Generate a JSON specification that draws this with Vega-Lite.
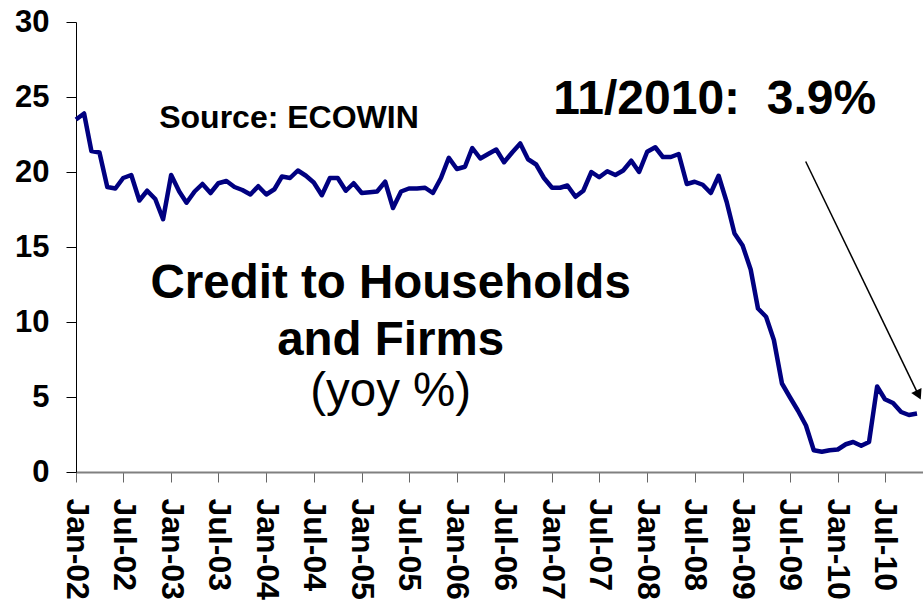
{
  "$schema": "https://vega.github.io/schema/vega-lite/v6.json",
  "width": 847,
  "height": 450,
  "autosize": "none",
  "padding": {"left": 76, "top": 22, "right": 0, "bottom": 141},
  "background": "white",
  "config": {"view": {"stroke": null}, "font": "Liberation Sans"},
  "encoding": {
    "x": {
      "field": "date", "type": "temporal",
      "scale": {"type": "utc", "domain": [{"year": 2002, "month": 1, "date": 1, "utc": true}, {"year": 2010, "month": 11, "date": 24, "utc": true}]},
      "axis": {"title": null, "format": "%b-%y", "tickCount": {"interval": "month", "step": 6}, "labelAngle": 90, "labelAlign": "left", "labelBaseline": "middle", "labelFontSize": 32, "labelFontWeight": "bold", "labelColor": "black", "labelPadding": 16, "tickSize": 10, "tickColor": "#666666", "domainColor": "#808080", "domainWidth": 2, "grid": false, "labelOverlap": false, "labelFlush": false}
    },
    "y": {
      "field": "value", "type": "quantitative",
      "scale": {"domain": [0, 30]},
      "axis": {"title": null, "values": [0, 5, 10, 15, 20, 25, 30], "labelFontSize": 31, "labelFontWeight": "bold", "labelColor": "black", "labelPadding": 17, "tickSize": 10, "tickColor": "black", "domainColor": "black", "domainWidth": 1, "grid": false, "labelFlush": false}
    }
  },
  "layer": [
    {
      "data": {"values": [
        {"date": "2002-01-01", "value": 23.5}, {"date": "2002-02-01", "value": 23.9}, {"date": "2002-03-01", "value": 21.4}, {"date": "2002-04-01", "value": 21.3},
        {"date": "2002-05-01", "value": 19.0}, {"date": "2002-06-01", "value": 18.9}, {"date": "2002-07-01", "value": 19.6}, {"date": "2002-08-01", "value": 19.8},
        {"date": "2002-09-01", "value": 18.1}, {"date": "2002-10-01", "value": 18.75}, {"date": "2002-11-01", "value": 18.2}, {"date": "2002-12-01", "value": 16.85},
        {"date": "2003-01-01", "value": 19.8}, {"date": "2003-02-01", "value": 18.7}, {"date": "2003-03-01", "value": 17.95}, {"date": "2003-04-01", "value": 18.7},
        {"date": "2003-05-01", "value": 19.2}, {"date": "2003-06-01", "value": 18.6}, {"date": "2003-07-01", "value": 19.25}, {"date": "2003-08-01", "value": 19.4},
        {"date": "2003-09-01", "value": 19.0}, {"date": "2003-10-01", "value": 18.8}, {"date": "2003-11-01", "value": 18.5}, {"date": "2003-12-01", "value": 19.05},
        {"date": "2004-01-01", "value": 18.5}, {"date": "2004-02-01", "value": 18.85}, {"date": "2004-03-01", "value": 19.7}, {"date": "2004-04-01", "value": 19.6},
        {"date": "2004-05-01", "value": 20.1}, {"date": "2004-06-01", "value": 19.75}, {"date": "2004-07-01", "value": 19.3}, {"date": "2004-08-01", "value": 18.45},
        {"date": "2004-09-01", "value": 19.6}, {"date": "2004-10-01", "value": 19.6}, {"date": "2004-11-01", "value": 18.75}, {"date": "2004-12-01", "value": 19.25},
        {"date": "2005-01-01", "value": 18.6}, {"date": "2005-02-01", "value": 18.65}, {"date": "2005-03-01", "value": 18.7}, {"date": "2005-04-01", "value": 19.35},
        {"date": "2005-05-01", "value": 17.6}, {"date": "2005-06-01", "value": 18.7}, {"date": "2005-07-01", "value": 18.9}, {"date": "2005-08-01", "value": 18.9},
        {"date": "2005-09-01", "value": 18.95}, {"date": "2005-10-01", "value": 18.6}, {"date": "2005-11-01", "value": 19.6}, {"date": "2005-12-01", "value": 20.95},
        {"date": "2006-01-01", "value": 20.2}, {"date": "2006-02-01", "value": 20.35}, {"date": "2006-03-01", "value": 21.6}, {"date": "2006-04-01", "value": 20.9},
        {"date": "2006-05-01", "value": 21.2}, {"date": "2006-06-01", "value": 21.5}, {"date": "2006-07-01", "value": 20.65}, {"date": "2006-08-01", "value": 21.3},
        {"date": "2006-09-01", "value": 21.9}, {"date": "2006-10-01", "value": 20.85}, {"date": "2006-11-01", "value": 20.5}, {"date": "2006-12-01", "value": 19.6},
        {"date": "2007-01-01", "value": 18.95}, {"date": "2007-02-01", "value": 18.95}, {"date": "2007-03-01", "value": 19.1}, {"date": "2007-04-01", "value": 18.35},
        {"date": "2007-05-01", "value": 18.75}, {"date": "2007-06-01", "value": 20.0}, {"date": "2007-07-01", "value": 19.65}, {"date": "2007-08-01", "value": 20.05},
        {"date": "2007-09-01", "value": 19.8}, {"date": "2007-10-01", "value": 20.1}, {"date": "2007-11-01", "value": 20.75}, {"date": "2007-12-01", "value": 20.0},
        {"date": "2008-01-01", "value": 21.35}, {"date": "2008-02-01", "value": 21.65}, {"date": "2008-03-01", "value": 21.0}, {"date": "2008-04-01", "value": 21.0},
        {"date": "2008-05-01", "value": 21.2}, {"date": "2008-06-01", "value": 19.2}, {"date": "2008-07-01", "value": 19.35}, {"date": "2008-08-01", "value": 19.15},
        {"date": "2008-09-01", "value": 18.6}, {"date": "2008-10-01", "value": 19.75}, {"date": "2008-11-01", "value": 18.0}, {"date": "2008-12-01", "value": 15.9},
        {"date": "2009-01-01", "value": 15.1}, {"date": "2009-02-01", "value": 13.5}, {"date": "2009-03-01", "value": 10.9}, {"date": "2009-04-01", "value": 10.35},
        {"date": "2009-05-01", "value": 8.8}, {"date": "2009-06-01", "value": 5.9}, {"date": "2009-07-01", "value": 5.0}, {"date": "2009-08-01", "value": 4.1},
        {"date": "2009-09-01", "value": 3.1}, {"date": "2009-10-01", "value": 1.45}, {"date": "2009-11-01", "value": 1.35}, {"date": "2009-12-01", "value": 1.45},
        {"date": "2010-01-01", "value": 1.5}, {"date": "2010-02-01", "value": 1.85}, {"date": "2010-03-01", "value": 2.0}, {"date": "2010-04-01", "value": 1.75},
        {"date": "2010-05-01", "value": 2.0}, {"date": "2010-06-01", "value": 5.7}, {"date": "2010-07-01", "value": 4.85}, {"date": "2010-08-01", "value": 4.6},
        {"date": "2010-09-01", "value": 4.0}, {"date": "2010-10-01", "value": 3.8}, {"date": "2010-11-01", "value": 3.9}
      ]},
      "mark": {"type": "line", "color": "#000080", "strokeWidth": 4.5, "strokeJoin": "round"}
    },
    {
      "data": {"values": [{"date": "2009-08-31", "value": 20.7, "date_end": "2010-11-07", "value_end": 5.13}]},
      "mark": {"type": "rule", "color": "black", "strokeWidth": 1.5},
      "encoding": {"x2": {"field": "date_end"}, "y2": {"field": "value_end"}}
    },
    {
      "data": {"values": [{"date": "2010-11-07", "value": 5.13}]},
      "mark": {"type": "point", "shape": "triangle-up", "filled": true, "color": "black", "opacity": 1, "size": 130, "angle": 154}
    },
    {
      "data": {"values": [{"date": "2004-03-28", "value": 23.6, "label": "Source: ECOWIN"}]},
      "mark": {"type": "text", "fontSize": 32, "fontWeight": "bold", "color": "black", "align": "center", "baseline": "middle"},
      "encoding": {"text": {"field": "label"}}
    },
    {
      "data": {"values": [{"date": "2008-09-16", "value": 24.8, "label": "11/2010:\u00a0 3.9%"}]},
      "mark": {"type": "text", "fontSize": 48, "fontWeight": "bold", "color": "black", "align": "center", "baseline": "middle"},
      "encoding": {"text": {"field": "label"}}
    },
    {
      "data": {"values": [
        {"date": "2005-04-22", "value": 12.53, "label": "Credit to Households"},
        {"date": "2005-04-22", "value": 8.73, "label": "and Firms"}
      ]},
      "mark": {"type": "text", "fontSize": 47.5, "fontWeight": "bold", "color": "black", "align": "center", "baseline": "middle"},
      "encoding": {"text": {"field": "label"}}
    },
    {
      "data": {"values": [{"date": "2005-04-22", "value": 5.33, "label": "(yoy %)"}]},
      "mark": {"type": "text", "fontSize": 47.5, "fontWeight": "normal", "color": "black", "align": "center", "baseline": "middle"},
      "encoding": {"text": {"field": "label"}}
    }
  ]
}
